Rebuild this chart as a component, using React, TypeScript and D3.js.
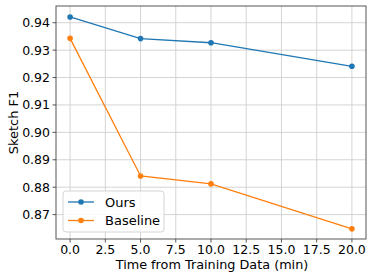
import * as d3 from 'd3';

const MARGIN = { top: 6, right: 8, bottom: 41, left: 56 };
const W = 374;
const H = 280;

const times = [0, 5, 10, 20];
const ours = [0.9421, 0.9342, 0.9327, 0.9241];
const baseline = [0.9343, 0.8841, 0.8812, 0.8648];
const xTicks = [0, 2.5, 5, 7.5, 10, 12.5, 15, 17.5, 20];
const yTicks = [0.87, 0.88, 0.89, 0.9, 0.91, 0.92, 0.93, 0.94];
const series = [
  { name: 'Ours', values: ours, color: '#1f77b4' },
  { name: 'Baseline', values: baseline, color: '#ff7f0e' },
];

const FONT = 'DejaVu Sans';

const App = () => {
  const bw = W - MARGIN.left - MARGIN.right;
  const bh = H - MARGIN.top - MARGIN.bottom;

  const x = d3.scaleLinear().domain([-1, 21]).range([0, bw]);
  const y = d3.scaleLinear().domain([0.8611, 0.9461]).range([bh, 0]);

  const line = d3
    .line<number>()
    .x((_, i) => x(times[i]))
    .y((d) => y(d));

  return (
    <svg width={W} height={H} style={{ position: 'absolute', left: 0, top: 0 }}>
      <rect width={W} height={H} fill="white" />
      <g transform={`translate(${MARGIN.left},${MARGIN.top})`}>
        {/* grid */}
        {xTicks.map((t) => (
          <line key={'gx' + t} x1={x(t)} x2={x(t)} y1={0} y2={bh} stroke="#cfcfcf" strokeWidth={0.9} />
        ))}
        {yTicks.map((t) => (
          <line key={'gy' + t} x1={0} x2={bw} y1={y(t)} y2={y(t)} stroke="#cfcfcf" strokeWidth={0.9} />
        ))}

        {series.map((s) => (
          <g key={s.name}>
            <path d={line(s.values) ?? ''} fill="none" stroke={s.color} strokeWidth={1.3} />
            {s.values.map((v, i) => (
              <circle key={i} cx={x(times[i])} cy={y(v)} r={2.8} fill={s.color} />
            ))}
          </g>
        ))}

        {/* spines */}
        <rect x={0} y={0} width={bw} height={bh} fill="none" stroke="#444" strokeWidth={0.9} />

        {/* x ticks */}
        {xTicks.map((t) => (
          <g key={'tx' + t} transform={`translate(${x(t)},${bh})`}>
            <line y2={3.5} stroke="#444" strokeWidth={0.9} />
            <text y={15} textAnchor="middle" fontFamily={FONT} fontSize={12.5} fill="#000">
              {t.toFixed(1)}
            </text>
          </g>
        ))}
        {/* y ticks */}
        {yTicks.map((t) => (
          <g key={'ty' + t} transform={`translate(0,${y(t)})`}>
            <line x2={-3.5} stroke="#444" strokeWidth={0.9} />
            <text x={-6} dy="0.35em" textAnchor="end" fontFamily={FONT} fontSize={12.5} fill="#000">
              {t.toFixed(2)}
            </text>
          </g>
        ))}

        <text x={bw / 2 + 1} y={bh + 30} textAnchor="middle" fontFamily={FONT} fontSize={12.8} fill="#000">
          Time from Training Data (min)
        </text>
        <text
          transform={`translate(${-38},${bh / 2}) rotate(-90)`}
          textAnchor="middle"
          fontFamily={FONT}
          fontSize={13}
          fill="#000"
        >
          Sketch F1
        </text>

        {/* legend */}
        <g transform={`translate(7,${185})`}>
          <rect width={101} height={41} rx={3} fill="white" fillOpacity={0.85} stroke="#d0d0d0" strokeWidth={0.9} />
          {series.map((s, i) => (
            <g key={s.name} transform={`translate(0,${11 + i * 18.5})`}>
              <line x1={5} x2={31} stroke={s.color} strokeWidth={1.3} />
              <circle cx={18} r={2.8} fill={s.color} />
              <text x={42} dy="0.35em" fontFamily={FONT} fontSize={13} fill="#000">
                {s.name}
              </text>
            </g>
          ))}
        </g>
      </g>
    </svg>
  );
};

export default App;
